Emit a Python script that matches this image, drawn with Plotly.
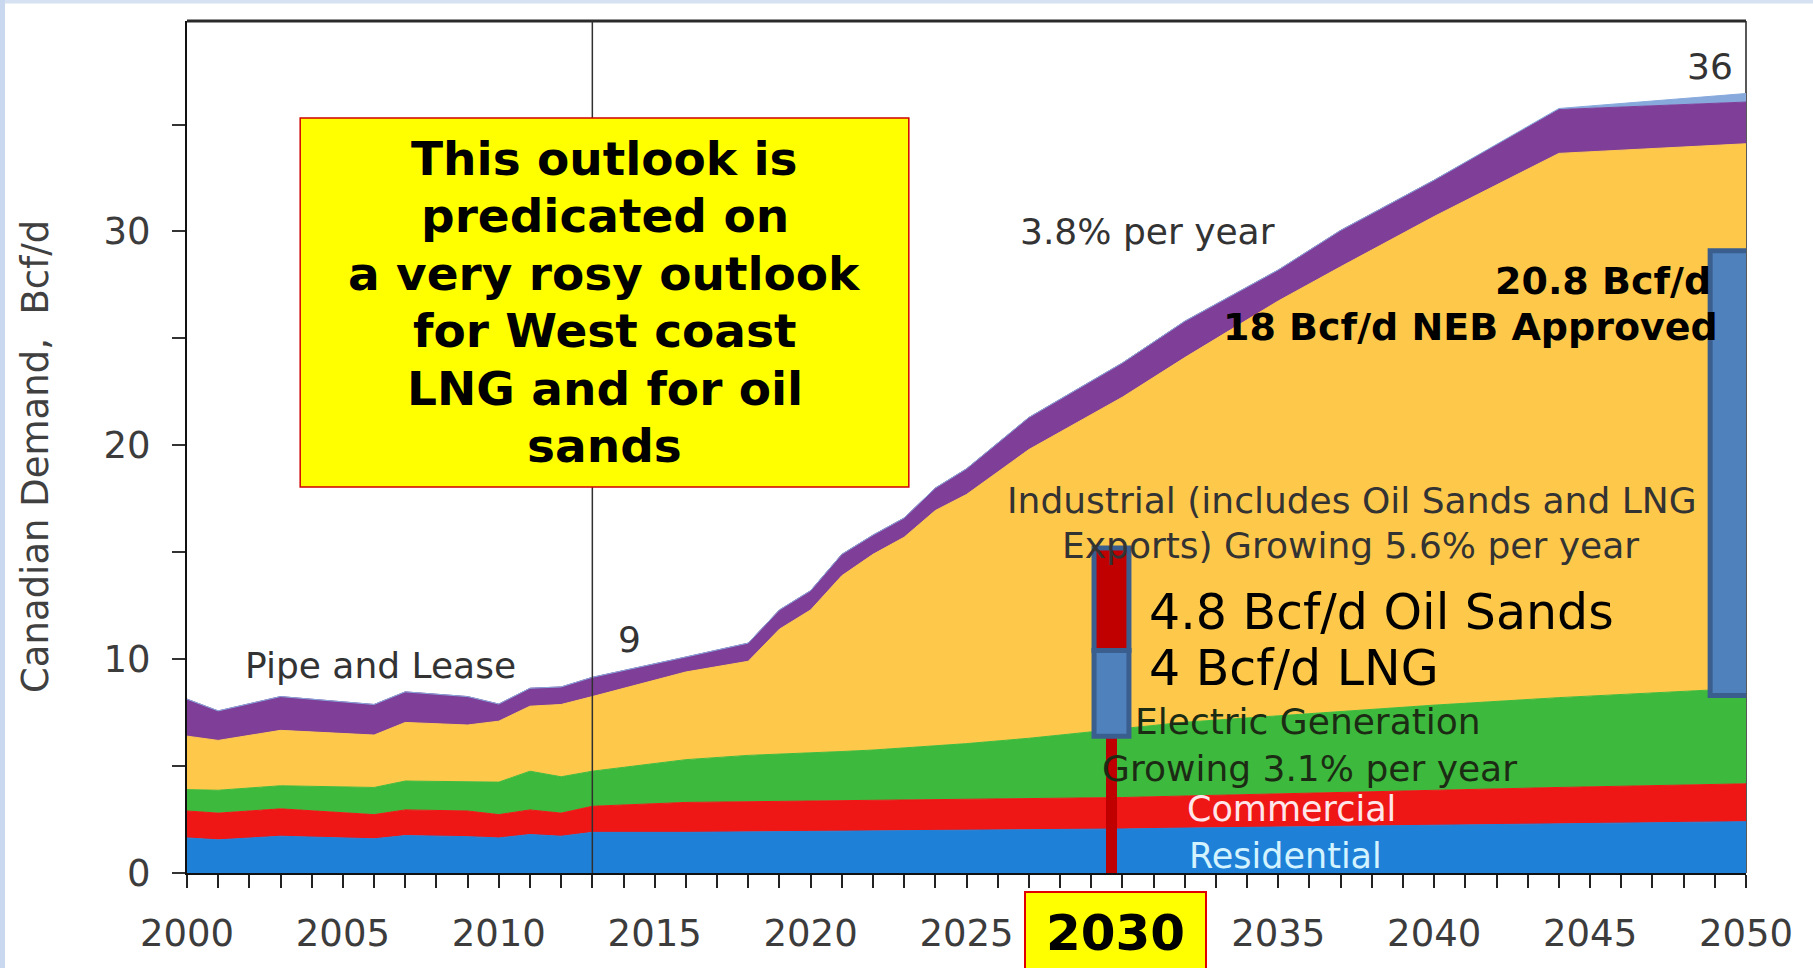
import plotly.graph_objects as go

# ---- data: Canadian natural gas demand by sector, Bcf/d (stacked) ----
years = [2000, 2001, 2003, 2006, 2007, 2009, 2010, 2011, 2012, 2013,
         2016, 2018, 2019, 2020, 2021, 2022, 2023, 2024, 2025, 2027,
         2030, 2032, 2035, 2037, 2040, 2044, 2050]

residential = [1.64, 1.55, 1.72, 1.60, 1.75, 1.70, 1.64, 1.80, 1.72, 1.90,
               1.90, 1.92, 1.93, 1.94, 1.95, 1.96, 1.97, 1.98, 1.99, 2.02,
               2.06, 2.10, 2.15, 2.19, 2.25, 2.32, 2.40]
commercial = [1.26, 1.25, 1.28, 1.13, 1.20, 1.20, 1.09, 1.15, 1.08, 1.22,
              1.40, 1.41, 1.42, 1.43, 1.43, 1.44, 1.45, 1.46, 1.46, 1.46,
              1.47, 1.50, 1.55, 1.58, 1.63, 1.68, 1.77]
electric = [1.00, 1.07, 1.08, 1.27, 1.35, 1.35, 1.52, 1.81, 1.70, 1.64,
            2.00, 2.17, 2.20, 2.23, 2.30, 2.35, 2.43, 2.51, 2.60, 2.82,
            3.22, 3.45, 3.65, 3.78, 3.97, 4.20, 4.47]
industrial = [2.50, 2.33, 2.59, 2.45, 2.74, 2.67, 2.85, 3.04, 3.38, 3.49,
              4.10, 4.40, 5.85, 6.70, 8.22, 9.15, 9.85, 11.00, 11.65, 13.50,
              15.50, 17.05, 19.40, 20.80, 22.85, 25.45, 25.46]
pipe_lease = [1.73, 1.38, 1.58, 1.43, 1.43, 1.33, 0.80, 0.84, 0.82, 0.90,
              0.70, 0.85, 0.90, 0.90, 1.00, 0.90, 0.90, 1.05, 1.20, 1.50,
              1.60, 1.70, 1.45, 1.70, 1.70, 2.05, 1.95]
other = [0, 0, 0, 0, 0, 0, 0, 0, 0, 0,
         0, 0, 0, 0, 0, 0, 0, 0, 0, 0,
         0, 0, 0, 0, 0, 0.05, 0.40]

sectors = [
    ("Residential", residential, "#1f80d8"),
    ("Commercial", commercial, "#ef1616"),
    ("Electric Generation", electric, "#3dba3d"),
    ("Industrial", industrial, "#fec84b"),
    ("Pipe and Lease", pipe_lease, "#7f3f99"),
    ("Other", other, "#87a9dc"),
]

x_tick_vals = [2000, 2005, 2010, 2015, 2020, 2025, 2030, 2035, 2040, 2045, 2050]
x_tick_text = ["2000", "2005", "2010", "2015", "2020", "2025", "", "2035", "2040", "2045", "2050"]
y_tick_vals = [0, 10, 20, 30]

# 2030 call-out column (oil sands on top of LNG) and the 2050 NEB column
callout_year = 2029.65
callout_base = 6.4
lng_bcfd = 4.0
oil_sands_bcfd = 4.8
neb_year = 2049.48
neb_base = 8.3
neb_total_bcfd = 20.8

# ---- page geometry ----
W, H = 1813, 968
L, R, T, B = 187, 67, 21, 95
plot_w = W - L - R
plot_h = H - T - B


def px_x(px):
    return (px - L) / plot_w


def px_y(py):
    return (H - B - py) / plot_h


fig = go.Figure()

for name, vals, color in sectors:
    fig.add_trace(go.Scatter(
        x=years, y=vals, name=name, mode="lines",
        stackgroup="demand", line=dict(width=1, color=color),
        fillcolor=color, hoverinfo="skip",
    ))

shapes = []

# light slide frame along the top and left edges
shapes.append(dict(type="rect", xref="paper", yref="paper",
                   x0=px_x(0), x1=px_x(W), y0=px_y(3.5), y1=px_y(0),
                   fillcolor="#d6e1f2", line=dict(width=0), layer="below"))
shapes.append(dict(type="rect", xref="paper", yref="paper",
                   x0=px_x(0), x1=px_x(5), y0=px_y(H), y1=px_y(0),
                   fillcolor="#cad8ef", line=dict(width=0), layer="below"))

# plot frame: right edge sits behind the areas, top edge on top
shapes.append(dict(type="line", xref="paper", yref="paper",
                   x0=1, x1=1, y0=0, y1=1,
                   line=dict(color="#222222", width=1.5), layer="below"))
shapes.append(dict(type="line", xref="paper", yref="paper",
                   x0=0, x1=1, y0=1, y1=1,
                   line=dict(color="#2a2a2a", width=3), layer="above"))

# history / projection divider
shapes.append(dict(type="line", xref="x", yref="paper",
                   x0=2013, x1=2013, y0=0, y1=1,
                   line=dict(color="#303030", width=1.5), layer="above"))

# yellow commentary box
shapes.append(dict(type="rect", xref="x", yref="y",
                   x0=2003.63, x1=2023.15, y0=18.05, y1=35.3,
                   fillcolor="#ffff00", line=dict(color="#d00000", width=1.5),
                   layer="above"))

# stem from the 2030 column down to the axis
shapes.append(dict(type="line", xref="x", yref="y",
                   x0=callout_year, x1=callout_year, y0=-0.4, y1=callout_base,
                   line=dict(color="#c00000", width=11), layer="above"))

col_half = 0.56
shapes.append(dict(type="rect", xref="x", yref="y",
                   x0=callout_year - col_half, x1=callout_year + col_half,
                   y0=callout_base, y1=callout_base + lng_bcfd,
                   fillcolor="#4f81bd", line=dict(color="#3a5f8e", width=5),
                   layer="above"))
shapes.append(dict(type="rect", xref="x", yref="y",
                   x0=callout_year - col_half, x1=callout_year + col_half,
                   y0=callout_base + lng_bcfd,
                   y1=callout_base + lng_bcfd + oil_sands_bcfd,
                   fillcolor="#c00000", line=dict(color="#3a5f8e", width=5),
                   layer="above"))

neb_half = 0.63
shapes.append(dict(type="rect", xref="x", yref="y",
                   x0=neb_year - neb_half, x1=neb_year + neb_half,
                   y0=neb_base, y1=neb_base + neb_total_bcfd,
                   fillcolor="#4f81bd", line=dict(color="#3a5f8e", width=5),
                   layer="above"))

FONT = "DejaVu Sans"
annotations = []


def label(text, x, y, size=36, color="#333333", xanchor="center", bold=False, **kw):
    t = f"<b>{text}</b>" if bold else text
    annotations.append(dict(text=t, x=x, y=y, xref="x", yref="y",
                            showarrow=False, xanchor=xanchor, yanchor="middle",
                            font=dict(family=FONT, size=size, color=color), **kw))


label("Pipe and Lease", 2006.2, 9.68)
label("9", 2014.2, 10.9)
label("36", 2048.85, 37.7)
label("3.8% per year", 2030.8, 30.0)
label("Industrial (includes Oil Sands and LNG", 2037.37, 17.41)
label("Exports) Growing 5.6% per year", 2037.3, 15.3)
label("Electric Generation", 2035.95, 7.08, color="#1c2c14")
label("Growing 3.1% per year", 2036.0, 4.87, color="#1c2c14")
label("Commercial", 2035.43, 2.98, size=35, color="#ffe6ea")
label("Residential", 2035.24, 0.81, size=35, color="#d2f3ff")

label("4.8 Bcf/d Oil Sands", 2030.8, 12.16, size=49, color="#000000", xanchor="left")
label("4 Bcf/d LNG", 2030.8, 9.57, size=49, color="#000000", xanchor="left")
label("20.8 Bcf/d", 2048.95, 27.7, size=38, color="#000000", xanchor="right", bold=True)
label("18 Bcf/d NEB Approved", 2049.15, 25.55, size=38, color="#000000", xanchor="right", bold=True)

box_lines = ["This outlook is", "predicated on", "a very rosy outlook",
             "for West coast", "LNG and for oil", "sands"]
box_top_line, box_step = 33.42, 2.69
for i, line in enumerate(box_lines):
    label(line, 2013.39, box_top_line - i * box_step, size=47, color="#000000", bold=True)

# highlighted 2030 tick label
annotations.append(dict(text="<b>2030</b>", x=2029.78, xref="x",
                        y=px_y(891), yref="paper", xanchor="center", yanchor="top",
                        showarrow=False, width=175, height=76, valign="middle",
                        bgcolor="#ffff00", bordercolor="#e00000", borderwidth=2,
                        borderpad=2,
                        font=dict(family=FONT, size=50, color="#000000")))

# y-axis title
annotations.append(dict(text="Canadian Demand,  Bcf/d", textangle=-90,
                        x=px_x(35), xref="paper", y=px_y(457), yref="paper",
                        showarrow=False, xanchor="center", yanchor="middle",
                        font=dict(family=FONT, size=37, color="#404040")))

fig.update_layout(
    width=W, height=H,
    margin=dict(l=L, r=R, t=T, b=B),
    paper_bgcolor="#ffffff", plot_bgcolor="#ffffff",
    showlegend=False, hovermode=False,
    shapes=shapes, annotations=annotations,
    xaxis=dict(range=[2000, 2050], tickvals=x_tick_vals, ticktext=x_tick_text,
               showgrid=False, zeroline=False, showline=True,
               linecolor="#111111", linewidth=2,
               ticks="outside", ticklen=13, tickwidth=1.5, tickcolor="#222222",
               minor=dict(dtick=1, tick0=2000, ticks="outside", ticklen=13,
                          tickwidth=1.5, tickcolor="#222222", showgrid=False),
               ticklabelstandoff=14,
               tickfont=dict(family=FONT, size=37, color="#3c3c3c")),
    yaxis=dict(range=[0, 39.84], tickvals=y_tick_vals,
               showgrid=False, zeroline=False, showline=True,
               linecolor="#111111", linewidth=2,
               ticks="outside", ticklen=13, tickwidth=1.5, tickcolor="#333333",
               minor=dict(dtick=5, tick0=0, ticks="outside", ticklen=13,
                          tickwidth=1.5, tickcolor="#333333", showgrid=False),
               ticklabelstandoff=14,
               tickfont=dict(family=FONT, size=37, color="#3c3c3c")),
)

fig.write_html("out.html", config={"displayModeBar": False})
